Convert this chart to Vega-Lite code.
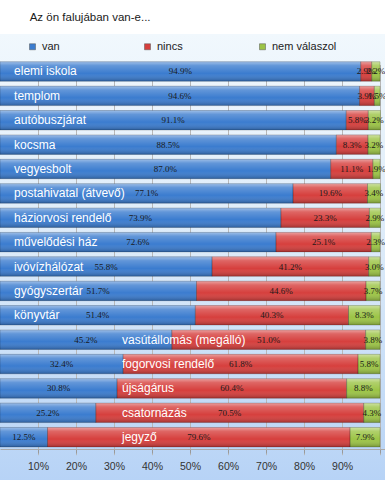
{
  "$schema": "https://vega.github.io/schema/vega-lite/v6.json",
  "width": 385,
  "height": 446,
  "autosize": "none",
  "padding": {"top": 34, "left": 0, "right": 0, "bottom": 0},
  "background": "white",
  "title": {"text": "Az ön falujában van-e...", "anchor": "start", "dx": 30, "offset": 11, "fontSize": 11.5, "font": "Liberation Sans", "fontWeight": "normal", "color": "#1a1a1a"},
  "config": {
    "view": {"stroke": null, "fill": {"gradient": "linear", "x1": 0, "y1": 0, "x2": 0, "y2": 1, "stops": [{"offset": 0, "color": "#f1f8fd"}, {"offset": 0.5, "color": "#dbeaf9"}, {"offset": 1, "color": "#b7d3f6"}]}},
    "font": "Liberation Sans"
  },
  "data": {"values": [
    {"kat": "elemi iskola", "van": 94.9, "nincs": 2.9, "nem válaszol": 2.2},
    {"kat": "templom", "van": 94.6, "nincs": 3.9, "nem válaszol": 1.5},
    {"kat": "autóbuszjárat", "van": 91.1, "nincs": 5.8, "nem válaszol": 3.2},
    {"kat": "kocsma", "van": 88.5, "nincs": 8.3, "nem válaszol": 3.2},
    {"kat": "vegyesbolt", "van": 87.0, "nincs": 11.1, "nem válaszol": 1.9},
    {"kat": "postahivatal (átvevő)", "van": 77.1, "nincs": 19.6, "nem válaszol": 3.4},
    {"kat": "háziorvosi rendelő", "van": 73.9, "nincs": 23.3, "nem válaszol": 2.9},
    {"kat": "művelődési ház", "van": 72.6, "nincs": 25.1, "nem válaszol": 2.3},
    {"kat": "ivóvízhálózat", "van": 55.8, "nincs": 41.2, "nem válaszol": 3.0},
    {"kat": "gyógyszertár", "van": 51.7, "nincs": 44.6, "nem válaszol": 3.7},
    {"kat": "könyvtár", "van": 51.4, "nincs": 40.3, "nem válaszol": 8.3},
    {"kat": "vasútállomás (megálló)", "van": 45.2, "nincs": 51.0, "nem válaszol": 3.8},
    {"kat": "fogorvosi rendelő", "van": 32.4, "nincs": 61.8, "nem válaszol": 5.8},
    {"kat": "újságárus", "van": 30.8, "nincs": 60.4, "nem válaszol": 8.8},
    {"kat": "csatornázás", "van": 25.2, "nincs": 70.5, "nem válaszol": 4.3},
    {"kat": "jegyző", "van": 12.5, "nincs": 79.6, "nem válaszol": 7.9}
  ]},
  "transform": [
    {"fold": ["van", "nincs", "nem válaszol"], "as": ["key", "value"]},
    {"calculate": "indexof(['van','nincs','nem válaszol'], datum.key)", "as": "ord"},
    {"stack": "value", "groupby": ["kat"], "sort": [{"field": "ord", "order": "ascending"}], "as": ["x0", "x1"]},
    {"calculate": "(datum.x0 + datum.x1) / 2", "as": "mid"},
    {"calculate": "format(datum.value, '.1f') + '%'", "as": "lab"}
  ],
  "encoding": {
    "y": {"field": "kat", "type": "nominal", "sort": null, "axis": null,
          "scale": {"range": [25.3, 415.4], "paddingInner": 0.2, "paddingOuter": 0.1}}
  },
  "layer": [
    {
      "mark": {"type": "bar", "cornerRadius": 0},
      "encoding": {
        "x": {"field": "x0", "type": "quantitative",
              "scale": {"domain": [0, 101.3], "nice": false, "zero": false},
              "axis": {"values": [10, 20, 30, 40, 50, 60, 70, 80, 90, 100], "title": null, "offset": -31,
                       "labelExpr": "datum.value < 100 ? datum.value + '%' : ''",
                       "labelFont": "Liberation Sans", "labelFontSize": 10.5, "labelColor": "#333", "labelPadding": 8,
                       "tickSize": 4, "tickColor": "#999", "domainColor": "#aaa",
                       "grid": true, "gridColor": "#b8b8b8", "gridWidth": 1}},
        "x2": {"field": "x1"},
        "color": {"field": "key", "type": "nominal",
                  "scale": {"domain": ["van", "nincs", "nem válaszol"], "range": ["#3b7ccf", "#d63f3d", "#9cc446"]},
                  "legend": {"orient": "none", "legendX": 27, "legendY": 7, "direction": "horizontal", "title": null,
                             "symbolType": "square", "symbolSize": 36, "symbolStrokeWidth": 0.5, "symbolStrokeColor": "#555",
                             "labelFont": "Liberation Sans", "labelFontSize": 11, "labelColor": "#222", "labelOffset": 4,
                             "gridAlign": "all", "columnPadding": 35}}
      }
    },
    {
      "mark": {"type": "bar", "stroke": "rgba(0,0,0,0.3)", "strokeWidth": 0.6,
               "fill": {"gradient": "linear", "x1": 0, "y1": 0, "x2": 0, "y2": 1, "stops": [
                 {"offset": 0, "color": "rgba(255,255,255,0.5)"},
                 {"offset": 0.2, "color": "rgba(255,255,255,0.2)"},
                 {"offset": 0.6, "color": "rgba(255,255,255,0)"},
                 {"offset": 1, "color": "rgba(0,0,0,0.25)"}]}},
      "encoding": {
        "x": {"field": "x0", "type": "quantitative"},
        "x2": {"field": "x1"}
      }
    },
    {
      "mark": {"type": "text", "font": "Liberation Serif", "fontSize": 9, "color": "#1a1a1a", "align": "center", "baseline": "middle"},
      "encoding": {
        "x": {"field": "mid", "type": "quantitative"},
        "text": {"field": "lab"}
      }
    },
    {
      "transform": [
        {"filter": "datum.key == 'van'"},
        {"calculate": "datum.value >= 50 ? 3.7 : 32.1", "as": "lx"}
      ],
      "mark": {"type": "text", "font": "Liberation Sans", "fontSize": 12, "color": "white", "align": "left", "baseline": "middle"},
      "encoding": {
        "x": {"field": "lx", "type": "quantitative"},
        "text": {"field": "kat"}
      }
    }
  ]
}
